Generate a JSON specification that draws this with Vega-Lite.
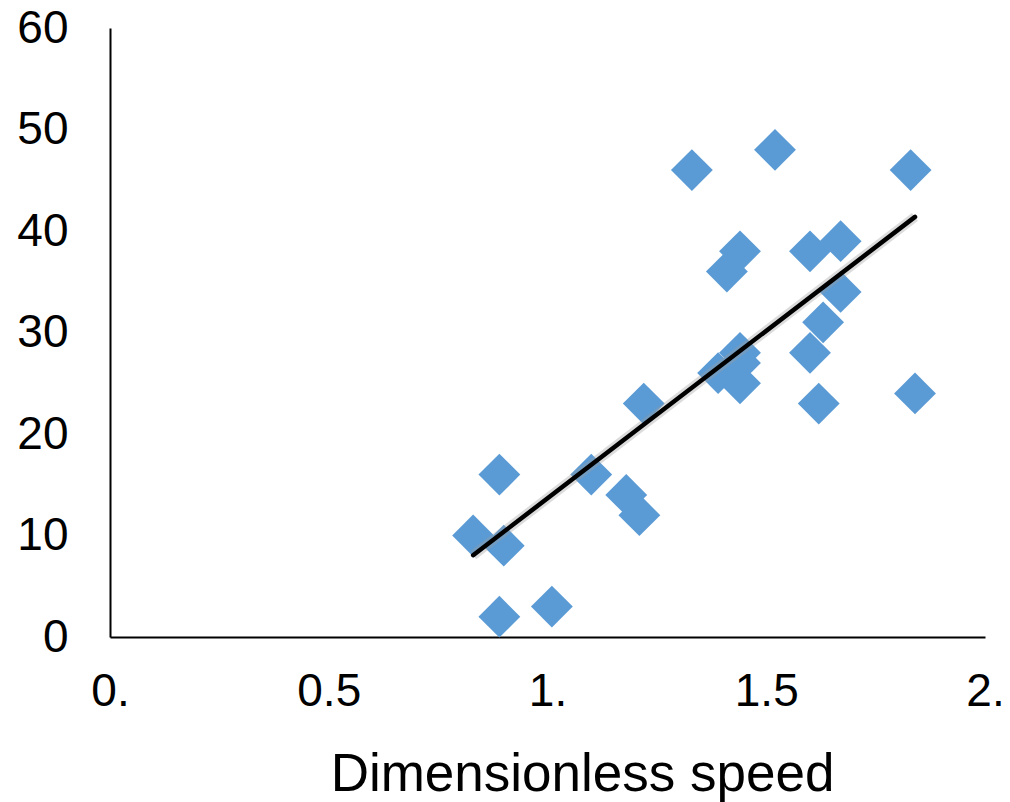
{
  "$schema": "https://vega.github.io/schema/vega-lite/v6.json",
  "width": 875,
  "height": 609,
  "autosize": "none",
  "padding": {"left": 110, "top": 28, "right": 25, "bottom": 165},
  "background": "white",
  "config": {
    "view": {"stroke": null},
    "font": "Liberation Sans",
    "axis": {"grid": false, "ticks": false, "domainColor": "#000000", "domainWidth": 2, "labelColor": "#000000", "titleColor": "#000000", "labelFont": "Liberation Sans", "titleFont": "Liberation Sans", "titleFontWeight": "normal"}
  },
  "data": {"values": [
    {"speed": 0.83, "value": 10},
    {"speed": 0.89, "value": 16},
    {"speed": 0.90, "value": 9},
    {"speed": 0.89, "value": 2},
    {"speed": 1.01, "value": 3},
    {"speed": 1.10, "value": 16},
    {"speed": 1.18, "value": 14},
    {"speed": 1.21, "value": 12},
    {"speed": 1.22, "value": 23},
    {"speed": 1.33, "value": 46},
    {"speed": 1.52, "value": 48},
    {"speed": 1.83, "value": 46},
    {"speed": 1.44, "value": 38},
    {"speed": 1.41, "value": 36},
    {"speed": 1.60, "value": 38},
    {"speed": 1.67, "value": 39},
    {"speed": 1.67, "value": 34},
    {"speed": 1.63, "value": 31},
    {"speed": 1.60, "value": 28},
    {"speed": 1.62, "value": 23},
    {"speed": 1.84, "value": 24},
    {"speed": 1.44, "value": 28},
    {"speed": 1.44, "value": 27},
    {"speed": 1.44, "value": 25},
    {"speed": 1.39, "value": 26}
  ]},
  "encoding": {
    "x": {
      "field": "speed", "type": "quantitative",
      "scale": {"domain": [0, 2], "nice": false, "zero": false},
      "axis": {
        "title": "Dimensionless speed",
        "values": [0, 0.5, 1, 1.5, 2],
        "labelExpr": "datum.value % 1 === 0 ? datum.value + '.' : datum.label",
        "labelFontSize": 46, "labelPadding": 32, "labelFlush": false,
        "titleFontSize": 53, "titleX": 472, "titleY": 153, "titleAlign": "center", "titleBaseline": "alphabetic"
      }
    },
    "y": {
      "field": "value", "type": "quantitative",
      "scale": {"domain": [0, 60], "nice": false},
      "axis": {
        "title": null,
        "values": [0, 10, 20, 30, 40, 50, 60],
        "labelFontSize": 46, "labelPadding": 42, "labelFlush": false
      }
    }
  },
  "layer": [
    {
      "mark": {"type": "point", "shape": "diamond", "filled": true, "size": 1750, "color": "#5B9BD5", "opacity": 1, "strokeWidth": 0}
    },
    {
      "transform": [{"regression": "value", "on": "speed"}],
      "mark": {"type": "line", "color": "#9a9a9a", "strokeWidth": 10, "opacity": 0.35}
    },
    {
      "transform": [{"regression": "value", "on": "speed"}],
      "mark": {"type": "line", "color": "#000000", "strokeWidth": 4.5, "strokeCap": "round"}
    }
  ]
}
